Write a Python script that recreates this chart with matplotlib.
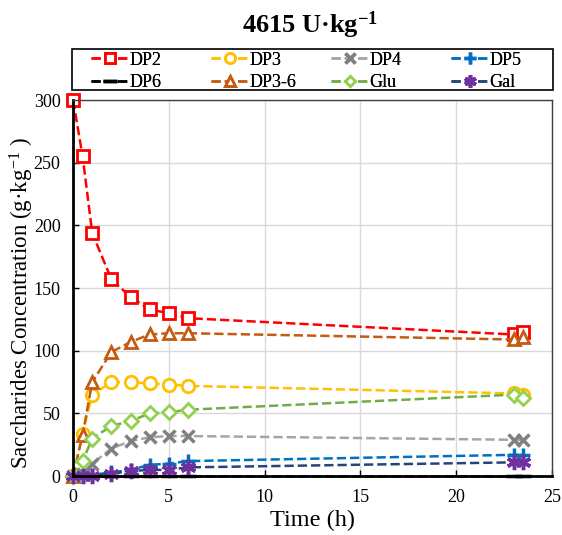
import matplotlib
matplotlib.use("Agg")
import matplotlib.pyplot as plt
from matplotlib.patches import Rectangle

plt.rcParams['font.family'] = ['Liberation Serif', 'DejaVu Serif']
plt.rcParams['mathtext.fontset'] = 'custom'
plt.rcParams['mathtext.rm'] = 'Liberation Serif'
plt.rcParams['mathtext.it'] = 'Liberation Serif:italic'
plt.rcParams['mathtext.bf'] = 'Liberation Serif:bold'

# sampling times (h)
time = [0, 0.5, 1, 2, 3, 4, 5, 6, 23, 23.5]

# concentrations (g/kg)
dp2 = [300, 255, 194, 157, 143, 133, 130, 126, 113, 115]
dp3 = [0, 34, 65, 75, 75, 74, 73, 72, 66, 65]
dp4 = [0, 2, 10, 22, 28, 31, 32, 32, 29, 29]
dp5 = [0, 0, 1, 3, 5, 9, 10, 12, 17, 17]
dp6 = [0, 0, 0, 0, 0, 0, 0, 0, 0, 0]
dp36 = [0, 33, 75, 99, 107, 113, 114, 114, 109, 111]
glu = [0, 12, 30, 40, 44, 50, 51, 53, 65, 62]
gal = [0, 0, 0, 2, 4, 5, 5, 7, 11, 11]

names = ['DP2', 'DP3', 'DP4', 'DP5', 'DP6', 'DP3-6', 'Glu', 'Gal']
series = [dp2, dp3, dp4, dp5, dp6, dp36, glu, gal]
line_colors = ['#FF0000', '#FFC000', '#A5A5A5', '#0070C0', '#000000', '#C55A11', '#70AD47', '#264478']
mark_colors = ['#FF0000', '#FFC000', '#808080', '#0070C0', '#000000', '#C55A11', '#92D050', '#7030A0']
markers = ['s', 'o', 'x', '+', '_', '^', 'D', (6, 2, 0)]
msizes = [9, 9, 9, 10, 12, 9, 7, 11]
filled = [False, False, True, True, True, False, False, True]

fig = plt.figure(figsize=(5.62, 5.35), dpi=100)
ax = fig.add_axes([0.130, 0.110, 0.852, 0.703])

handles = []
for name, y, lc, mc, m, ms, f in zip(names, series, line_colors, mark_colors, markers, msizes, filled):
    h, = ax.plot(time, y, linestyle='--', color=lc, linewidth=1.8, marker=m,
                 markersize=ms, markeredgecolor=mc,
                 markerfacecolor=mc if f else 'white',
                 markeredgewidth=2.5 if f else 2, label=name, clip_on=False)
    handles.append(h)

ax.set_xlim(0, 25)
ax.set_ylim(0, 300)
ax.set_xticks(range(0, 26, 5))
ax.set_yticks(range(0, 301, 50))
ax.grid(True, color='#D9D9D9', linewidth=1)
ax.set_axisbelow(True)
ax.tick_params(direction='in', labelsize=13, length=4, width=1)
ax.tick_params(axis='y', pad=9)
ax.tick_params(axis='x', pad=9)

for side in ['left', 'bottom']:
    ax.spines[side].set_linewidth(2)
    ax.spines[side].set_color('black')
for side in ['top', 'right']:
    ax.spines[side].set_linewidth(1)
    ax.spines[side].set_color('#404040')

ax.set_xlabel('Time (h)', fontsize=17.5, labelpad=3)
ax.set_ylabel('Saccharides Concentration (g\u00b7kg$^{-1}$ )', fontsize=16.5)
ax.yaxis.set_label_coords(-0.077, 0.46)

# legend: boxed, four equal columns, filled row by row
W, H = 562.0, 535.0
fig.patches.append(Rectangle((72 / W, 1 - 90 / H), 481 / W, 41 / H, transform=fig.transFigure,
                             fill=False, edgecolor='black', linewidth=1.2))
for col in range(4):
    leg = fig.legend(handles=[handles[col], handles[col + 4]], loc='upper left',
                     bbox_to_anchor=((89 + 120 * col) / W, 1 - 50 / H), frameon=False,
                     fontsize=13, borderpad=0.1, labelspacing=0.3, handlelength=2.1,
                     handletextpad=0.05, borderaxespad=0, markerscale=0.8)
    fig.add_artist(leg)

fig.text(0.552, 1 - 33 / H, '4615 U\u00b7kg$^{\\mathbf{-1}}$', ha='center', va='baseline',
         fontsize=19, fontweight='bold')

fig.savefig('out.png', dpi=100)
